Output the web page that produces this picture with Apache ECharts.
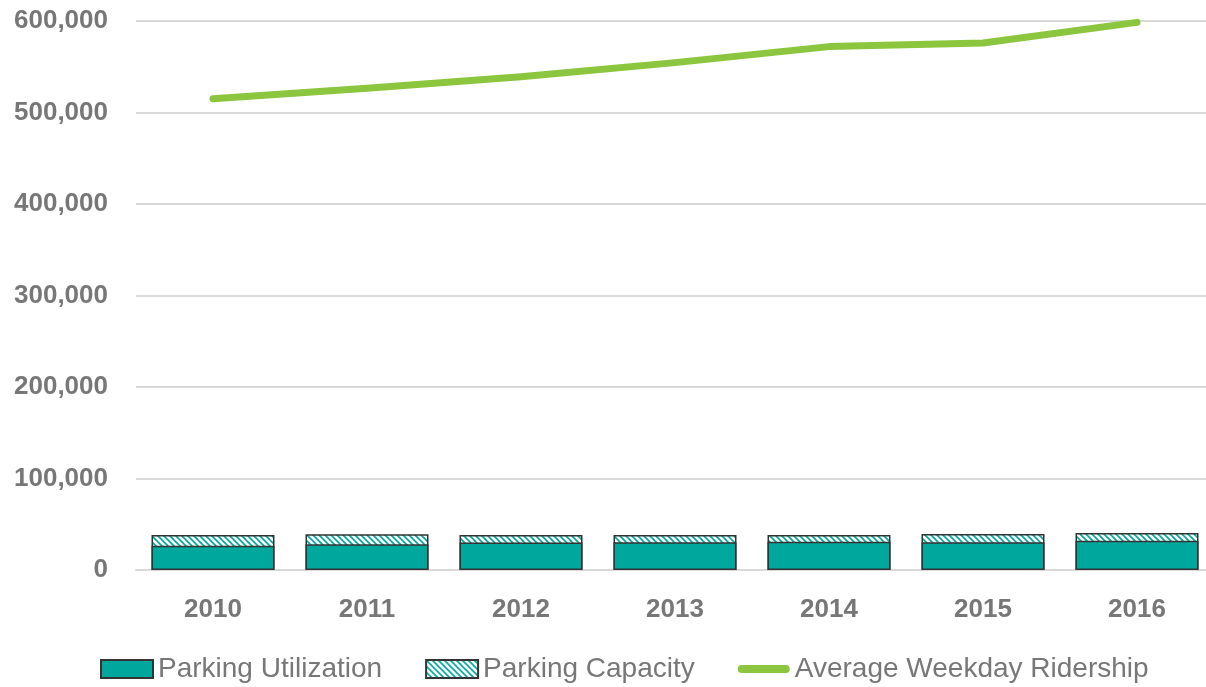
<!DOCTYPE html>
<html>
<head>
<meta charset="utf-8">
<script src="https://cdn.jsdelivr.net/npm/echarts@6/dist/echarts.min.js"></script>
<style>
html,body{margin:0;padding:0;background:#fff;}
#chart{width:1206px;height:687px;}
</style>
</head>
<body>
<div id="chart"></div>
<script>
// ---- data ----
var years = ['2010', '2011', '2012', '2013', '2014', '2015', '2016'];
var parkingUtilization = [26600, 28100, 30100, 30200, 30900, 30300, 32000];
var parkingCapacity = [38300, 39000, 38200, 38200, 38300, 39300, 40400];
var avgWeekdayRidership = [514900, 526500, 539000, 554500, 572000, 576000, 598500];
var yTicks = [0, 100000, 200000, 300000, 400000, 500000, 600000];

var teal = '#00a79d';
var green = '#8cc63f';
var textGray = '#777777';

// hatch pattern for capacity
var pc = document.createElement('canvas');
pc.width = 6; pc.height = 6;
var ctx = pc.getContext('2d');
ctx.fillStyle = '#ffffff';
ctx.fillRect(0, 0, 6, 6);
ctx.strokeStyle = teal;
ctx.lineWidth = 1.6;
ctx.beginPath();
ctx.moveTo(-1, -1); ctx.lineTo(7, 7);
ctx.moveTo(-4, 2); ctx.lineTo(4, 10);
ctx.moveTo(2, -4); ctx.lineTo(10, 4);
ctx.stroke();
var hatch = { image: pc, repeat: 'repeat' };

var chart = echarts.init(document.getElementById('chart'), null, { renderer: 'canvas' });
var fmt = function (v) { return v.toString().replace(/\B(?=(\d{3})+(?!\d))/g, ','); };
var labelFont = 'Liberation Sans Narrow, Arial Narrow, Liberation Sans, Arial, sans-serif';

chart.setOption({
  animation: false,
  backgroundColor: '#ffffff',
  grid: { left: 136, width: 1078, top: 21, height: 549, containLabel: false, outerBoundsMode: 'none' },
  legend: {
    left: 100,
    top: 655,
    padding: 0,
    itemWidth: 52,
    itemHeight: 18,
    itemGap: 43,
    textStyle: { fontFamily: 'Liberation Sans, Arial, sans-serif', fontSize: 28, color: textGray },
    data: [
      { name: 'Parking Utilization', icon: 'rect' },
      { name: 'Parking Capacity', icon: 'rect' },
      { name: 'Average Weekday Ridership',
        icon: 'path://M4,0 L48,0 A4,4 0 0 1 48,8 L4,8 A4,4 0 0 1 4,0 Z',
        itemStyle: { color: green, borderWidth: 0 } }
    ]
  },
  xAxis: {
    type: 'category',
    data: years,
    boundaryGap: true,
    axisLine: { show: true, lineStyle: { color: '#d9d9d9', width: 2 } },
    axisTick: { show: false },
    axisLabel: {
      margin: 27,
      fontFamily: labelFont,
      fontWeight: 'bold', fontSize: 26, color: textGray
    }
  },
  yAxis: {
    type: 'value',
    min: yTicks[0],
    max: yTicks[yTicks.length - 1],
    interval: yTicks[1] - yTicks[0],
    axisLine: { show: false },
    axisTick: { show: false },
    splitLine: { lineStyle: { color: '#d9d9d9', width: 2 } },
    axisLabel: {
      margin: 28,
      formatter: fmt,
      fontFamily: labelFont,
      fontWeight: 'bold', fontSize: 26, color: textGray
    }
  },
  series: [
    {
      name: 'Parking Capacity',
      type: 'bar',
      data: parkingCapacity,
      barWidth: 123,
      z: 2,
      itemStyle: { color: hatch, borderColor: '#333333', borderWidth: 1.5 }
    },
    {
      name: 'Parking Utilization',
      type: 'bar',
      data: parkingUtilization,
      barWidth: 123,
      barGap: '-100%',
      z: 3,
      itemStyle: { color: teal, borderColor: '#333333', borderWidth: 1.5 }
    },
    {
      name: 'Average Weekday Ridership',
      type: 'line',
      data: avgWeekdayRidership,
      symbol: 'none',
      z: 4,
      lineStyle: { color: green, width: 7, cap: 'round', join: 'round' },
      itemStyle: { color: green }
    }
  ]
});
</script>
</body>
</html>
